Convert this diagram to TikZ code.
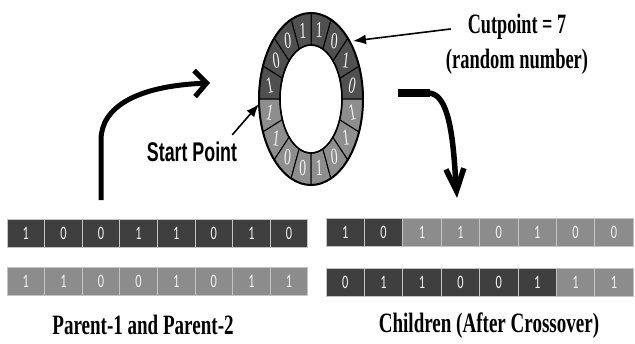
\documentclass[tikz,border=0pt]{standalone}
\usepackage{fontspec}
\usepackage{graphicx}
\setmainfont{Liberation Serif}
\newfontfamily\sansbold{Liberation Sans}
\newfontfamily\cellfont{Carlito}
\usetikzlibrary{arrows.meta,calc}
\definecolor{celldark}{HTML}{3F3F3F}
\definecolor{celllight}{HTML}{8C8C8C}
\definecolor{celledge}{HTML}{C4C4C4}
\definecolor{ringdark}{HTML}{505050}
\definecolor{ringlight}{HTML}{8E8E8E}
\definecolor{digitc}{HTML}{F2F2F2}
\newcommand{\narrowtxt}[2][0.66]{\scalebox{#1}[1]{#2}}
\begin{document}
\begin{tikzpicture}[x=1pt,y=1pt,
  cellbase/.style={draw=celledge, line width=0.8pt, minimum width=37.6pt, minimum height=28pt, inner sep=0pt, text=digitc, font=\cellfont\fontsize{19}{19}\selectfont},
  dcell/.style={cellbase, fill=celldark},
  lcell/.style={cellbase, fill=celllight},
  rdcell/.style={dcell, minimum width=38.4pt},
  rlcell/.style={lcell, minimum width=38.4pt},
  bigtitle/.style={font=\bfseries\fontsize{28}{28}\selectfont, inner sep=1pt},
  ringdigit/.style={text=digitc, font=\fontsize{23}{23}\selectfont, inner sep=0pt},
  thinarrow/.style={line width=1.6pt, -{Latex[length=13pt,width=10pt]}},
  leftbig/.style={line width=5pt, -{Straight Barb[length=12pt,width=26pt,line width=5pt]}},
  rightbig/.style={line width=5.5pt, -{Straight Barb[length=22pt,width=18pt,line width=5.5pt]}}
]
\useasboundingbox[fill=white] (0,0) rectangle (635,-343);

% parent rows
\foreach \b [count=\i] in {1,0,0,1,1,0,1,0}
  \node[dcell] (pa\i) at ({7+37.6*(\i-0.5)},-233) {\narrowtxt[0.65]{\b}};
\foreach \b [count=\i] in {1,1,0,0,1,0,1,1}
  \node[lcell] (pb\i) at ({7+37.6*(\i-0.5)},-281.5) {\narrowtxt[0.65]{\b}};

% children rows
\foreach \b/\s [count=\i] in {1/rdcell,0/rdcell,1/rlcell,1/rlcell,0/rlcell,1/rlcell,0/rlcell,0/rlcell}
  \node[\s] (ca\i) at ({326+38.4*(\i-0.5)},-232.5) {\narrowtxt[0.65]{\b}};
\foreach \b/\s [count=\i] in {0/rdcell,1/rdcell,1/rdcell,0/rdcell,0/rdcell,1/rdcell,1/rlcell,1/rlcell}
  \node[\s] (cb\i) at ({326+38.4*(\i-0.5)},-282.5) {\narrowtxt[0.65]{\b}};

% ring
\coordinate (rc) at (311,-99);
\foreach \k/\b in {0/0,1/1,2/0,3/1,4/1,5/0,6/0,7/1,8/1,9/1,10/0,11/0,12/1,13/0,14/1,15/1} {
  \pgfmathsetmacro{\aa}{22.5*\k}
  \pgfmathsetmacro{\ab}{22.5*(\k+1)}
  \pgfmathsetmacro{\am}{22.5*\k+11.25}
  \pgfmathsetmacro{\rot}{\k<8 ? (\am-90)*0.12 : (\am-270)*0.12}
  \ifnum\k<8 \def\rf{ringdark}\else\def\rf{ringlight}\fi
  \filldraw[fill=\rf, draw=black, line width=1pt]
    ($(rc)+(\aa:52 and 86)$) arc[start angle=\aa, end angle=\ab, x radius=52, y radius=86]
    -- ($(rc)+(\ab:31 and 54)$) arc[start angle=\ab, end angle=\aa, x radius=31, y radius=54] -- cycle;
  \node[ringdigit, rotate=\rot] (rd\k) at ($(rc)+(\am:42 and 70)$) {\narrowtxt[0.6]{\b}};
}
\draw[line width=2pt] (rc) ellipse[x radius=52, y radius=86];
\draw[line width=1.6pt] (rc) ellipse[x radius=31, y radius=54];

% labels
\node[bigtitle] (cut) at (517,-27) {\narrowtxt[0.65]{Cutpoint = 7}};
\node[bigtitle] (rand) at (517,-62) {\narrowtxt[0.66]{(random number)}};
\node[font=\sansbold\bfseries\fontsize{27}{27}\selectfont, inner sep=1pt] (start) at (192,-152) {\narrowtxt[0.66]{Start Point}};
\node[bigtitle] (plab) at (143,-325) {\narrowtxt[0.68]{Parent-1 and Parent-2}};
\node[bigtitle] (clab) at (489,-326) {\narrowtxt[0.68]{Children (After Crossover)}};

% thin arrows
\coordinate (cuttip) at (353,-41);
\draw[thinarrow, shorten <=16pt] (cut.west) -- (cuttip);
\coordinate (sptip) at (259,-104);
\draw[thinarrow] ([shift={(-6pt,6pt)}]start.north east) -- (sptip);

% big arrows
\coordinate (la0) at (101,-200);
\coordinate (la1) at (210,-83);
\draw[leftbig] (la0) -- (101,-140) .. controls (101,-108) and (135,-86) .. (la1);
\coordinate (ra0) at (398,-93);
\coordinate (ra1) at (457,-198);
\draw[line width=8pt] (ra0) -- (430,-93);
\draw[rightbig] (428,-93) .. controls (446,-93) and (452,-125) .. (455,-170) -- (ra1);
\end{tikzpicture}
\end{document}
